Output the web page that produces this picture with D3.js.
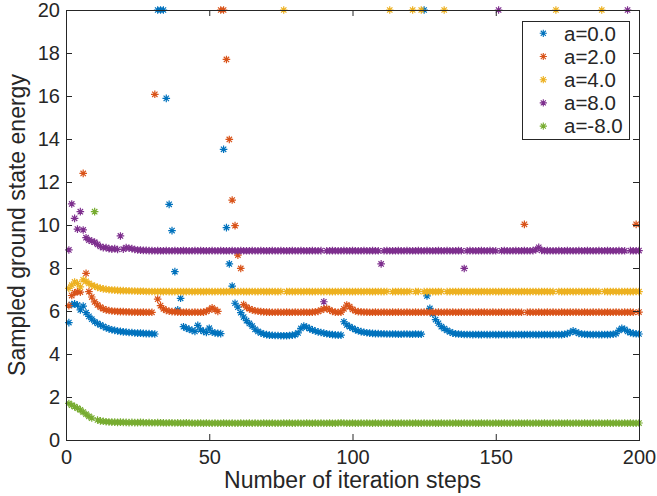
<!DOCTYPE html>
<html>
<head>
<meta charset="utf-8">
<script src="https://cdn.jsdelivr.net/npm/d3@7"></script>
<style>
  html, body { margin: 0; padding: 0; background: #fff; }
  svg { display: block; font-family: "Liberation Sans", Arial, Helvetica, sans-serif; }
</style>
</head>
<body>
<script>
// Sampled ground state energy per iteration step (steps 1..200), one array per coupling a.
const steps = d3.range(1, 201);

const energyA0 = [
5.46,6.30,6.33,6.28,6.05,6.23,5.92,5.75,5.62,5.50,
5.42,5.35,5.28,5.22,5.17,5.13,5.10,5.07,5.05,5.03,
5.02,5.00,5.00,4.98,4.97,4.97,4.96,4.95,4.95,4.94,
4.93,20,20,20,15.89,10.96,9.74,7.83,6.05,6.59,
5.27,5.20,5.15,5.10,5.05,5.33,5.12,5.05,5.00,5.20,
5.02,4.98,4.96,4.95,13.52,9.88,8.19,7.16,6.36,6.18,
5.92,5.72,5.55,5.42,5.30,5.15,5.05,4.98,4.93,4.90,
4.88,4.87,4.86,4.86,4.85,4.85,4.85,4.86,4.88,4.90,
4.98,5.19,5.30,5.25,5.18,5.12,5.07,5.03,5.00,4.97,
4.94,4.92,4.90,4.89,4.88,4.88,5.50,5.35,5.27,5.20,
5.13,5.08,5.04,5.01,4.99,4.97,4.96,4.95,4.95,4.94,
4.94,4.93,4.93,4.93,4.93,4.92,4.92,4.93,4.93,4.92,
4.92,4.93,4.92,4.92,20,6.70,6.12,5.86,5.60,5.43,
5.27,5.18,5.10,5.03,4.97,4.94,4.93,4.92,4.91,4.91,
4.91,4.90,4.91,4.90,4.90,4.91,4.90,4.90,4.91,4.90,
4.90,4.91,4.90,4.90,4.91,4.90,4.90,4.91,4.90,4.90,
4.91,4.90,4.91,4.90,4.90,4.91,4.90,4.91,4.90,4.90,
4.91,4.90,4.90,4.92,4.95,5.00,5.08,5.02,4.96,4.93,
4.92,4.91,4.91,4.90,4.91,4.90,4.90,4.91,4.90,4.91,
4.92,4.95,5.10,5.19,5.15,5.05,4.99,4.96,4.94,4.93
];

const energyA2 = [
6.25,6.72,6.85,6.90,6.88,12.40,7.75,6.90,6.65,6.42,
6.28,6.18,6.10,6.05,6.02,6.00,5.99,5.98,5.97,5.97,
5.96,5.96,5.95,5.95,5.95,5.94,5.95,5.94,5.94,5.94,
16.08,6.55,6.25,6.10,6.03,5.99,5.97,5.96,5.95,5.95,
5.94,5.95,5.94,5.94,5.95,5.94,5.94,5.95,5.98,6.05,
6.15,6.06,5.98,20,20,17.70,13.98,11.16,9.97,8.60,
7.98,6.30,6.18,6.10,6.05,6.01,5.99,5.97,5.96,5.95,
5.95,5.94,5.94,5.95,5.94,5.94,5.95,5.94,5.94,5.95,
5.94,5.94,5.95,5.94,5.94,5.95,5.96,5.98,6.04,6.10,
6.12,6.05,5.98,5.95,5.94,5.95,6.10,6.28,6.20,6.08,
6.00,5.97,5.96,5.95,5.95,5.94,5.94,5.95,5.94,5.94,
5.95,5.94,5.94,5.95,5.94,5.95,5.94,5.94,5.95,5.94,
5.94,5.95,5.94,5.94,5.95,5.94,5.95,5.94,5.94,5.95,
5.94,5.94,5.95,5.94,5.95,5.94,5.94,5.95,5.94,5.94,
5.95,5.94,5.94,5.95,5.94,5.95,5.94,5.94,5.95,5.94,
5.94,5.95,5.94,5.94,5.95,5.94,5.95,5.94,5.94,10.03,
5.94,5.95,5.94,5.94,5.95,5.94,5.94,5.95,5.94,5.95,
5.94,5.94,5.95,5.94,5.94,5.95,5.94,5.95,5.94,5.94,
5.95,5.94,5.94,5.95,5.94,5.95,5.94,5.94,5.95,5.94,
5.94,5.95,5.94,5.94,5.95,5.94,5.95,5.94,10.03,5.95
];

const energyA4 = [
7.05,7.20,7.35,7.28,7.12,7.45,7.38,7.28,7.20,7.15,
7.10,7.06,7.03,7.01,6.99,6.98,6.97,6.96,6.95,6.95,
6.94,6.94,6.93,6.93,6.92,6.92,6.92,6.91,6.91,6.91,
6.90,6.91,6.90,6.90,6.91,6.90,6.90,6.90,6.91,6.90,
6.90,6.90,6.91,6.90,6.90,6.91,6.90,6.90,6.90,6.91,
6.90,6.90,6.91,6.90,6.90,6.90,6.91,6.90,6.90,6.90,
6.91,6.90,6.90,6.90,6.91,6.90,6.90,6.91,6.90,6.90,
6.90,6.91,6.90,6.90,6.91,20,6.90,6.91,6.90,6.90,
6.91,6.90,6.90,6.91,6.90,6.90,6.90,6.91,6.90,6.90,
6.91,6.90,6.90,6.90,6.91,6.90,6.90,6.91,6.90,6.90,
6.90,6.91,6.90,6.90,6.91,6.90,6.90,6.90,6.91,6.90,
6.90,6.91,20,6.90,6.90,6.91,6.90,6.90,6.90,6.91,
20,6.90,6.91,20,6.90,6.90,6.91,6.90,6.90,6.90,
6.91,20,6.90,6.90,6.91,6.90,6.90,6.90,6.91,6.90,
6.90,6.91,6.90,6.90,6.90,6.91,6.90,6.90,6.91,6.90,
6.90,6.90,6.91,6.90,6.90,6.91,6.90,6.90,6.90,6.91,
6.90,6.90,6.91,6.90,6.90,6.90,6.91,6.90,6.90,6.90,
20,6.91,6.90,6.90,6.90,6.91,6.90,6.90,6.91,6.90,
6.90,6.90,6.91,6.90,6.90,6.90,20,6.91,6.90,6.90,
6.91,6.90,6.90,6.90,6.91,6.90,6.90,6.90,6.91,6.90
];

const energyA8 = [
8.84,10.98,10.31,9.81,10.62,9.77,9.41,9.30,9.25,9.20,
9.10,9.00,8.95,8.95,8.90,8.88,8.90,8.86,9.49,8.88,
8.95,8.92,8.90,8.86,8.84,8.83,8.82,8.82,8.81,8.81,
8.80,8.81,8.80,8.80,8.81,8.80,8.80,8.81,8.80,8.80,
8.81,8.80,8.80,8.80,8.81,8.80,8.81,8.80,8.80,8.80,
8.81,8.80,8.80,8.81,8.80,8.80,8.80,8.81,8.80,8.80,
8.81,8.80,8.80,8.80,8.81,8.80,8.80,8.81,8.80,8.80,
8.80,8.81,8.80,8.80,8.81,8.80,8.80,8.80,8.81,8.80,
8.80,8.81,8.80,8.80,8.80,8.81,8.80,8.80,8.81,6.43,
8.80,8.80,8.81,8.80,8.80,8.80,8.81,8.80,8.80,8.81,
8.80,8.80,8.80,8.81,8.80,8.80,8.81,8.80,8.80,8.19,
8.80,8.81,8.80,8.80,8.80,8.81,8.80,8.80,8.81,8.80,
8.80,8.80,8.81,8.80,8.80,8.81,8.80,8.80,8.80,8.81,
8.80,8.80,8.81,8.80,8.80,8.80,8.81,8.80,7.98,8.80,
8.81,8.80,8.80,8.80,8.81,8.80,8.80,8.81,8.80,8.80,
20,8.80,8.81,8.80,8.80,8.80,8.81,8.80,8.80,8.81,
8.80,8.80,8.81,8.85,8.96,8.82,8.80,8.81,8.80,8.80,
8.80,8.81,8.80,8.80,8.81,8.80,8.80,8.80,8.81,8.80,
8.80,8.81,8.80,8.80,8.80,8.81,8.80,8.80,8.81,8.80,
8.80,8.80,8.81,8.80,8.80,20,8.81,8.80,8.80,8.81
];

const energyAm8 = [
1.70,1.62,1.55,1.48,1.40,1.30,1.20,1.10,1.02,10.62,
0.93,0.89,0.87,0.85,0.84,0.83,0.83,0.82,0.83,0.82,
0.82,0.81,0.82,0.81,0.81,0.82,0.81,0.80,0.81,0.80,
0.80,0.81,0.80,0.80,0.79,0.80,0.80,0.79,0.80,0.79,
0.79,0.80,0.79,0.79,0.78,0.79,0.79,0.78,0.79,0.78,
0.78,0.79,0.78,0.78,0.79,0.78,0.78,0.79,0.78,0.78,
0.79,0.78,0.78,0.79,0.78,0.79,0.78,0.78,0.79,0.78,
0.78,0.79,0.78,0.78,0.78,0.79,0.78,0.79,0.78,0.78,
0.79,0.78,0.78,0.79,0.78,0.78,0.79,0.78,0.79,0.78,
0.78,0.79,0.78,0.78,0.79,0.80,0.79,0.78,0.78,0.79,
0.78,0.78,0.79,0.78,0.79,0.78,0.78,0.79,0.78,0.78,
0.79,0.78,0.78,0.79,0.78,0.78,0.79,0.78,0.78,0.79,
0.78,0.79,0.78,0.78,0.79,0.78,0.78,0.79,0.78,0.78,
0.79,0.78,0.78,0.79,0.78,0.79,0.78,0.78,0.79,0.78,
0.78,0.79,0.78,0.78,0.79,0.78,0.79,0.78,0.78,0.79,
0.78,0.78,0.79,0.78,0.78,0.79,0.78,0.79,0.78,0.78,
0.79,0.78,0.78,0.79,0.78,0.78,0.79,0.78,0.78,0.79,
0.78,0.79,0.78,0.78,0.79,0.78,0.78,0.79,0.78,0.78,
0.79,0.78,0.78,0.79,0.78,0.79,0.78,0.78,0.79,0.78,
0.78,0.79,0.78,0.78,0.79,0.78,0.79,0.78,0.78,0.79
];

const seriesLabels = ["a=0.0", "a=2.0", "a=4.0", "a=8.0", "a=-8.0"];
const seriesColors = ["#0072BD", "#D95319", "#EDB120", "#7E2F8E", "#77AC30"];
const seriesValues = [energyA0, energyA2, energyA4, energyA8, energyAm8];

const xTicks = [0, 50, 100, 150, 200];
const yTicks = [0, 2, 4, 6, 8, 10, 12, 14, 16, 18, 20];
const xLabel = "Number of iteration steps";
const yLabel = "Sampled ground state energy";

const W = 657, H = 496;
const plotLeft = 66, plotRight = 639, plotTop = 10, plotBottom = 440;
const axisColor = "#262626";
const tickLen = 6;

const x = d3.scaleLinear().domain([0, 200]).range([plotLeft, plotRight]);
const y = d3.scaleLinear().domain([0, 20]).range([plotBottom, plotTop]);

const svg = d3.select("body").append("svg").attr("width", W).attr("height", H);

// asterisk marker: a plus and a cross overlaid
function asterisk(r) {
  const d = r * Math.SQRT1_2;
  return `M${-r},0L${r},0M0,${-r}L0,${r}M${-d},${-d}L${d},${d}M${-d},${d}L${d},${-d}`;
}
const markerPath = asterisk(3.8);
const markerStroke = 1.2;

// data markers, series drawn in order so later ones sit on top
const plot = svg.append("g");
seriesValues.forEach((vals, i) => {
  const pts = steps.map((s, k) => ({ s, v: vals[k] }));
  plot.append("g")
    .attr("stroke", seriesColors[i])
    .attr("stroke-width", markerStroke)
    .attr("fill", "none")
    .selectAll("path")
    .data(pts)
    .join("path")
    .attr("transform", d => `translate(${x(d.s)},${y(d.v)})`)
    .attr("d", markerPath);
});

// axes with inward ticks
const fontTick = 20;
const gx = svg.append("g").attr("transform", `translate(0,${plotBottom})`)
  .call(d3.axisBottom(x).tickValues(xTicks).tickSizeInner(-tickLen).tickSizeOuter(0).tickPadding(10).tickFormat(d3.format("d")));
const gy = svg.append("g").attr("transform", `translate(${plotLeft},0)`)
  .call(d3.axisLeft(y).tickValues(yTicks).tickSizeInner(-tickLen).tickSizeOuter(0).tickPadding(6).tickFormat(d3.format("d")));
const gt = svg.append("g").attr("transform", `translate(0,${plotTop})`)
  .call(d3.axisTop(x).tickValues(xTicks).tickSizeInner(-tickLen).tickSizeOuter(0).tickFormat(""));
const gr = svg.append("g").attr("transform", `translate(${plotRight},0)`)
  .call(d3.axisRight(y).tickValues(yTicks).tickSizeInner(-tickLen).tickSizeOuter(0).tickFormat(""));

[gx, gy, gt, gr].forEach(g => {
  g.select(".domain").remove();
  g.selectAll(".tick line").attr("stroke", axisColor).attr("stroke-width", 1);
  g.selectAll(".tick text").attr("fill", axisColor)
    .style("font-size", fontTick + "px")
    .style("font-family", '"Liberation Sans", Arial, Helvetica, sans-serif');
});

// box outline
svg.append("rect")
  .attr("x", plotLeft).attr("y", plotTop)
  .attr("width", plotRight - plotLeft).attr("height", plotBottom - plotTop)
  .attr("fill", "none").attr("stroke", axisColor).attr("stroke-width", 1)
  .attr("shape-rendering", "crispEdges");

// axis titles
svg.append("text")
  .attr("x", (plotLeft + plotRight) / 2).attr("y", 488)
  .attr("text-anchor", "middle")
  .attr("fill", axisColor)
  .style("font-size", "23px")
  .text(xLabel);

svg.append("text")
  .attr("transform", `translate(25,${(plotTop + plotBottom) / 2}) rotate(-90)`)
  .attr("text-anchor", "middle")
  .attr("fill", axisColor)
  .style("font-size", "23px")
  .text(yLabel);

// legend
const lg = svg.append("g");
lg.append("rect")
  .attr("x", 522).attr("y", 21)
  .attr("width", 107).attr("height", 118)
  .attr("fill", "#fff").attr("stroke", axisColor).attr("stroke-width", 1)
  .attr("shape-rendering", "crispEdges");
seriesLabels.forEach((lab, i) => {
  const cy = 33.3 + i * 23.2;
  lg.append("path")
    .attr("transform", `translate(543.3,${cy})`)
    .attr("d", asterisk(3.6))
    .attr("stroke", seriesColors[i]).attr("stroke-width", 1.1).attr("fill", "none");
  lg.append("text")
    .attr("x", 564).attr("y", cy)
    .attr("dy", "0.36em")
    .attr("fill", axisColor)
    .style("font-size", "20.5px")
    .text(lab);
});
</script>
</body>
</html>
